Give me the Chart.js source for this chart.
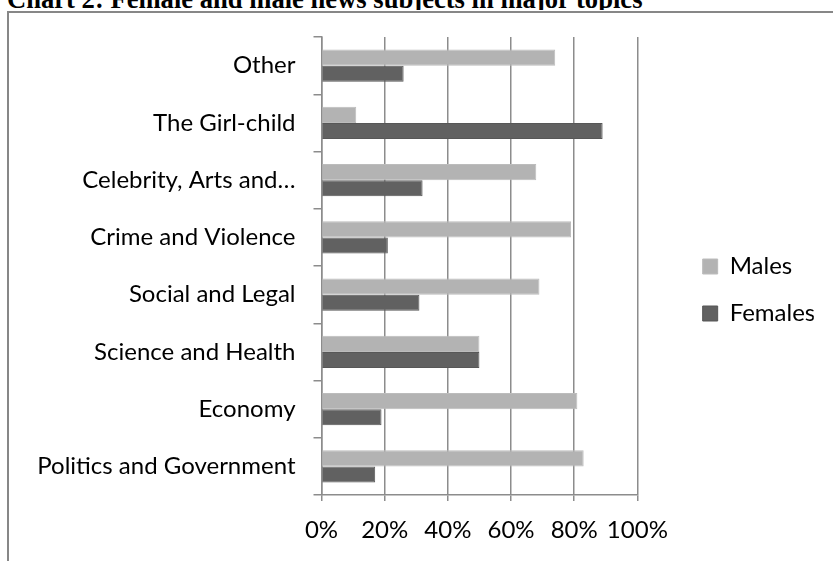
<!DOCTYPE html>
<html>
<head>
<meta charset="utf-8">
<script src="https://cdn.jsdelivr.net/npm/chart.js@4/dist/chart.umd.min.js"></script>
<style>
  html, body { margin: 0; padding: 0; background: #fff; }
  body { width: 833px; height: 561px; overflow: hidden; position: relative; }
  #title {
    position: absolute; left: 7px; top: 0; width: 826px; height: 10px; overflow: hidden;
  }
  #title span {
    position: absolute; left: 0; top: -13.6px; white-space: nowrap;
    font: bold 26.6px "Liberation Serif", "Times New Roman", serif; line-height: 1; color: #000;
  }
  #frame {
    position: absolute; left: 7px; top: 11px; width: 840px; height: 570px;
    border: 2px solid #878787; background: #fff;
  }
  #wrap { position: absolute; left: 0; top: 0; width: 824px; height: 548px; }
</style>
</head>
<body>
<div id="title"><span>Chart 2: Female and male news subjects in major topics</span></div>
<div id="frame"><div id="wrap"><canvas id="chart"></canvas></div></div>
<script>
// topics, listed top to bottom as they appear on the axis
const topics = [
  'Other',
  'The Girl-child',
  'Celebrity, Arts and…',
  'Crime and Violence',
  'Social and Legal',
  'Science and Health',
  'Economy',
  'Politics and Government'
];
// share of news subjects, in percent
const males   = [74, 11, 68, 79, 69, 50, 81, 83];
const females = [26, 89, 32, 21, 31, 50, 19, 17];
const xTicks  = [0, 20, 40, 60, 80, 100];

const labelFont = { family: 'Lato, "Open Sans", sans-serif', size: 24 };
const gridGray  = '#8c8c8c';

// keep tick labels from pushing the plot edges around
const noEdgePadding = s => {
  s.paddingTop = 0; s.paddingBottom = 0;
  s.paddingLeft = 0; s.paddingRight = 0;
};

new Chart(document.getElementById('chart'), {
  type: 'bar',
  data: {
    labels: topics,
    datasets: [
      {
        label: 'Males',
        data: males,
        backgroundColor: '#b3b3b3',
        borderColor: '#bcbcbc',
        borderWidth: 1,
        categoryPercentage: 0.565,
        barPercentage: 1
      },
      {
        label: 'Females',
        data: females,
        backgroundColor: '#616161',
        borderColor: '#575757',
        borderWidth: 1,
        categoryPercentage: 0.565,
        barPercentage: 1
      }
    ]
  },
  options: {
    indexAxis: 'y',
    responsive: true,
    maintainAspectRatio: false,
    devicePixelRatio: 1,
    animation: false,
    layout: { padding: { top: 24, left: 0, right: 19.2, bottom: 18 } },
    plugins: {
      title: { display: false },
      tooltip: { enabled: false },
      legend: {
        position: 'right',
        align: 'center',
        labels: {
          color: '#000',
          font: labelFont,
          boxWidth: 15,
          boxHeight: 15,
          padding: 23
        }
      }
    },
    scales: {
      x: {
        min: 0,
        max: 100,
        afterBuildTicks: s => { s.ticks = xTicks.map(v => ({ value: v })); },
        afterFit: s => { noEdgePadding(s); s.height = 48; },
        grid: { color: gridGray, lineWidth: 1.5, tickLength: 6, drawTicks: true },
        border: { color: gridGray, width: 1.5 },
        ticks: {
          color: '#000',
          font: labelFont,
          padding: 15,
          maxRotation: 0,
          autoSkip: false,
          callback: v => v + '%'
        }
      },
      y: {
        afterFit: s => { noEdgePadding(s); s.width = 312.5; },
        grid: { drawOnChartArea: false, color: gridGray, lineWidth: 1.5, tickLength: 8, offset: true },
        border: { color: gridGray, width: 1.5 },
        ticks: { color: '#000', font: labelFont, padding: 18, autoSkip: false }
      },
      // empty strip between the plot and the legend
      gap: {
        type: 'category',
        position: 'right',
        afterFit: s => { noEdgePadding(s); s.width = 42.3; },
        grid: { display: false },
        border: { display: false },
        ticks: { display: false }
      }
    }
  }
});
</script>
</body>
</html>
